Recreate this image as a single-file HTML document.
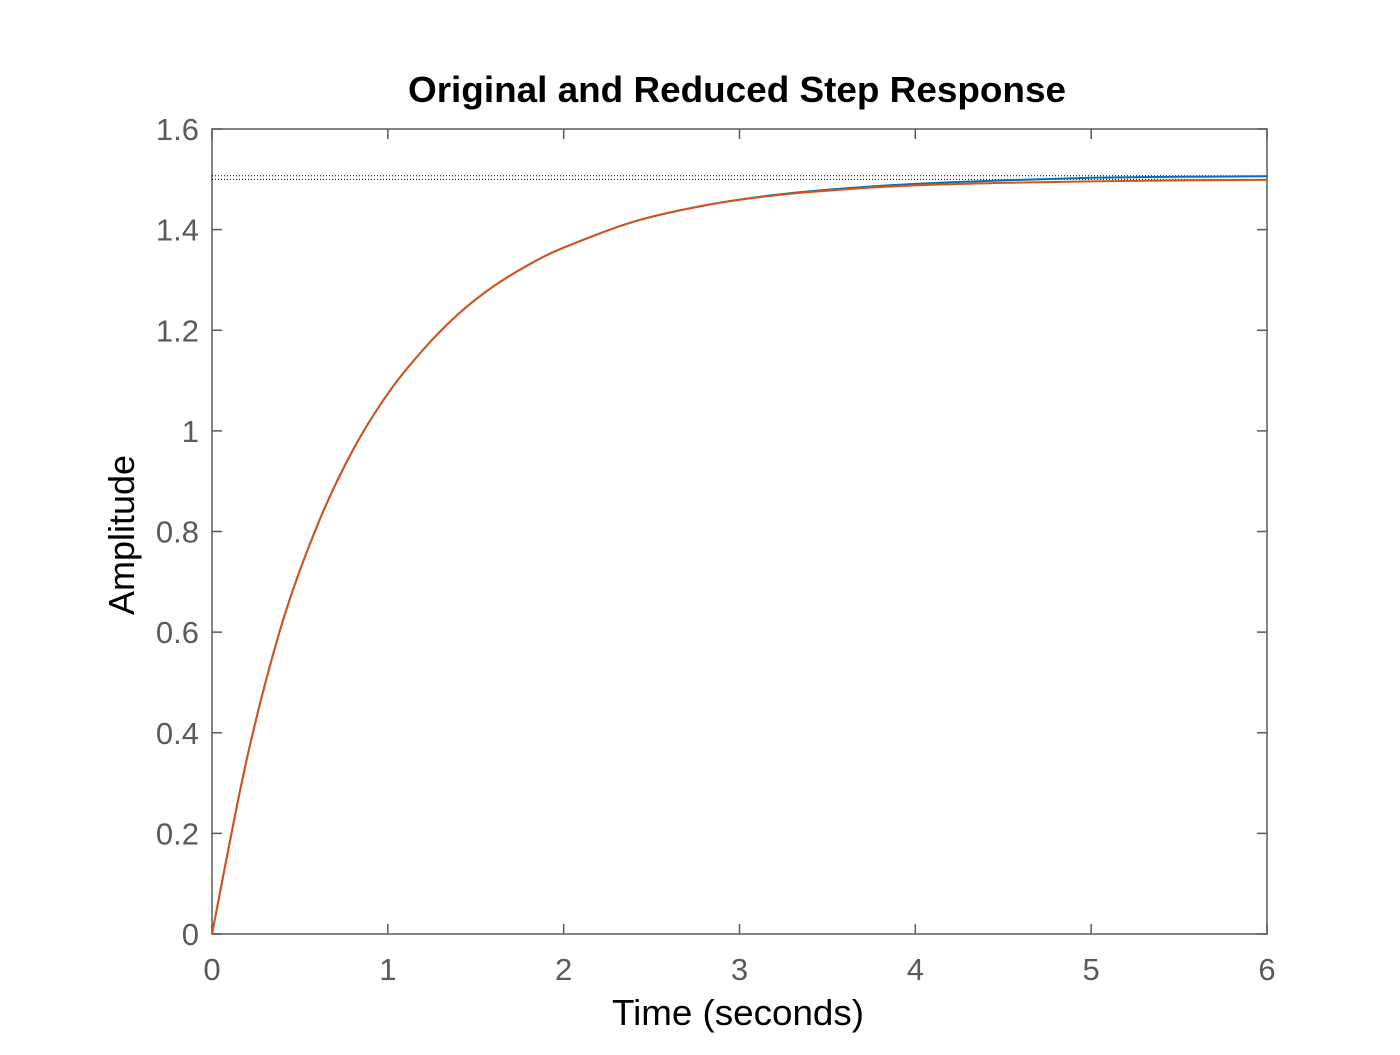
<!DOCTYPE html>
<html><head><meta charset="utf-8"><style>
body{margin:0;background:#fff;}
svg text{font-family:"Liberation Sans",Arial,sans-serif;}
</style></head><body>
<svg id="chart" width="1400" height="1050" xmlns="http://www.w3.org/2000/svg">
<rect width="1400" height="1050" fill="#fff"/>
<g id="axes"></g>
<g id="marks"></g>
<text x="737" y="102" text-anchor="middle" font-size="36" font-weight="bold" fill="#000" textLength="658" lengthAdjust="spacingAndGlyphs">Original and Reduced Step Response</text>
<text x="738" y="1025" text-anchor="middle" font-size="36" fill="#000" textLength="252" lengthAdjust="spacingAndGlyphs">Time (seconds)</text>
<text transform="translate(134,535) rotate(-90)" text-anchor="middle" font-size="36" fill="#000" textLength="160" lengthAdjust="spacingAndGlyphs">Amplitude</text>
</svg>
<script>
const xTicks=[0,1,2,3,4,5,6];
const yTicks=[0,0.2,0.4,0.6,0.8,1,1.2,1.4,1.6];
const yTickLabels=["0","0.2","0.4","0.6","0.8","1","1.2","1.4","1.6"];
const times=[0,0.2,0.4,0.6,0.8,1.0,1.2,1.4,1.6,1.8,2.0,2.4,2.8,3.2,3.6,4.0,4.5,5.0,5.5,6.0];
const originalResponse=[0,0.351,0.619,0.813,0.961,1.074,1.161,1.232,1.287,1.330,1.364,1.416,1.448,1.469,1.482,1.491,1.498,1.503,1.505,1.506];
const reducedResponse=[0,0.351,0.619,0.813,0.961,1.074,1.161,1.232,1.287,1.330,1.364,1.416,1.448,1.468,1.480,1.488,1.493,1.496,1.498,1.499];
const originalFinal=1.507;
const reducedFinal=1.5;

const L=212,R=1267,T=129,B=934,xMin=0,xMax=6,yMin=0,yMax=1.6;
const sx=v=>L+(v-xMin)/(xMax-xMin)*(R-L);
const sy=v=>B-(v-yMin)/(yMax-yMin)*(B-T);
const NS="http://www.w3.org/2000/svg";
const axes=document.getElementById('axes'),marks=document.getElementById('marks');
function mk(tag,attrs,parent){const e=document.createElementNS(NS,tag);for(const k in attrs)e.setAttribute(k,attrs[k]);parent.appendChild(e);return e;}

const frame=mk('rect',{x:L,y:T,width:R-L,height:B-T,fill:'none',stroke:'#5a5a5a','stroke-width':1.5},axes);


xTicks.forEach(v=>{
  const x=sx(v);
  const t1=mk('path',{d:`M${x},${B}V${B-10}M${x},${T}V${T+10}`,stroke:'#5a5a5a','stroke-width':1.5},axes);
  
  
  const lb=mk('text',{x:x,y:B+46,'text-anchor':'middle','font-size':31,fill:'#5a5a5a'},axes);
  lb.textContent=String(v);
  
  
});
yTicks.forEach((v,i)=>{
  const y=sy(v);
  const t1=mk('path',{d:`M${L},${y}H${L+10}M${R},${y}H${R-10}`,stroke:'#5a5a5a','stroke-width':1.5},axes);
  
  
  const lb=mk('text',{x:L-13,y:y+11,'text-anchor':'end','font-size':31,fill:'#5a5a5a'},axes);
  lb.textContent=yTickLabels[i];
  
  
});
[originalFinal,reducedFinal].forEach(v=>{
  const d=mk('line',{x1:L,x2:R,y1:sy(v),y2:sy(v),stroke:'#000','stroke-width':1,'stroke-dasharray':'1,2'},marks);
  
  
});
function smoothPath(xs,ys){
  const p=xs.map((x,i)=>[sx(x),sy(ys[i])]);
  let d=`M${p[0][0]},${p[0][1]}`;
  for(let i=0;i<p.length-1;i++){
    const p0=p[Math.max(0,i-1)],p1=p[i],p2=p[i+1],p3=p[Math.min(p.length-1,i+2)];
    const c1=[p1[0]+(p2[0]-p0[0])/6,p1[1]+(p2[1]-p0[1])/6];
    const c2=[p2[0]-(p3[0]-p1[0])/6,p2[1]-(p3[1]-p1[1])/6];
    d+=`C${c1[0]},${c1[1]} ${c2[0]},${c2[1]} ${p2[0]},${p2[1]}`;
  }
  return d;
}
const l1=mk('path',{d:smoothPath(times,originalResponse),fill:'none',stroke:'#0072BD','stroke-width':2},marks);


const l2=mk('path',{d:smoothPath(times,reducedResponse),fill:'none',stroke:'#D95319','stroke-width':2},marks);


</script>
</body></html>
